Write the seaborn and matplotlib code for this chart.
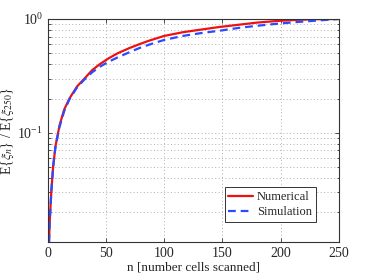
import numpy as np
import pandas as pd
import matplotlib
matplotlib.use("Agg")
import matplotlib.pyplot as plt
import seaborn as sns
from matplotlib.ticker import LogLocator

n_vals = [1, 1.5, 3, 4.5, 6.5, 10, 14, 18.5, 25, 31.5, 38, 44.5, 52, 60, 70, 78.5, 87, 100, 116, 131, 148, 164,
          180, 198, 214, 231, 250]
numerical = [0.011, 0.016, 0.031, 0.05, 0.076, 0.116, 0.16, 0.2, 0.255, 0.30, 0.355, 0.40, 0.45, 0.50, 0.555,
             0.60, 0.645, 0.71, 0.765, 0.805, 0.852, 0.89, 0.93, 0.962, 0.982, 0.995, 1.0]
simulation = [0.011, 0.016, 0.031, 0.05, 0.075, 0.113, 0.155, 0.197, 0.25, 0.295, 0.34, 0.38, 0.42, 0.46, 0.51,
              0.555, 0.595, 0.655, 0.71, 0.75, 0.79, 0.835, 0.872, 0.91, 0.94, 0.968, 1.0]
x_ticks = [0, 50, 100, 150, 200, 250]

sns.set_style("ticks")
plt.rcParams['font.family'] = ['Liberation Serif', 'DejaVu Serif']
plt.rcParams['mathtext.fontset'] = 'stix'

fig = plt.figure(figsize=(3.74, 2.79), dpi=100)
ax = fig.add_axes([0.128, 0.1326, 0.778, 0.7994])

df_num = pd.DataFrame({'n': n_vals, 'v': numerical})
df_sim = pd.DataFrame({'n': n_vals, 'v': simulation})
sns.lineplot(data=df_num, x='n', y='v', ax=ax, color='#ee1111', lw=1.6, label='Numerical')
sns.lineplot(data=df_sim, x='n', y='v', ax=ax, color='#2a4cff', lw=1.6, ls=(0, (3.5, 2.2)), label='Simulation')

ax.set_yscale('log')
ax.set_xlim(0, 250)
ax.set_ylim(0.011, 1.0)
ax.set_xticks(x_ticks)
ax.yaxis.set_major_locator(LogLocator(base=10, numticks=5))
ax.yaxis.set_minor_locator(LogLocator(base=10, subs=np.arange(2, 10), numticks=20))

ax.grid(True, which='major', axis='both', color='#b0b0b0', ls=(0, (1, 2.5)), lw=0.7)
ax.grid(True, which='minor', axis='y', color='#b0b0b0', ls=(0, (1, 2.5)), lw=0.7)

ax.tick_params(direction='in', top=True, right=True, which='both', labelsize=10, length=3, width=0.6,
               color='#333333')
ax.tick_params(which='minor', length=1.8)
for s in ax.spines.values():
    s.set_linewidth(0.8)
    s.set_color('#333333')

ax.set_xlabel('n [number cells scanned]', fontsize=9.5, labelpad=1)
ax.set_ylabel(r'E{$\xi_n$} / E{$\xi_{250}$}', fontsize=10, labelpad=1)

leg = ax.legend(loc='lower right', bbox_to_anchor=(0.921, 0.09), fontsize=9, frameon=True, fancybox=False,
                framealpha=1, edgecolor='#333333', handlelength=2.0, handletextpad=0.3, borderpad=0.3,
                labelspacing=0.25, borderaxespad=0)
leg.get_frame().set_linewidth(0.7)

fig.savefig('out.png', dpi=100)
